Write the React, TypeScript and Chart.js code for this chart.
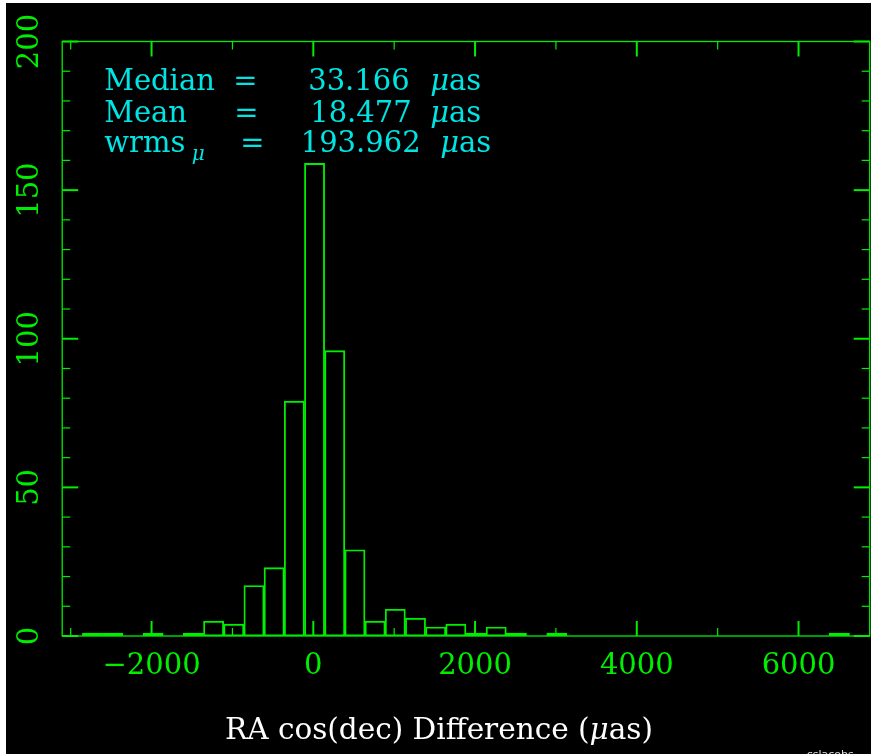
import React, { useEffect, useRef } from 'react';
import { Chart, registerables } from 'chart.js';

Chart.register(...registerables);

// ---- data ----
const X_MIN = -3105;
const X_MAX = 6880;
const BIN_COUNT = 40;
const binCounts = [
  0, 1, 1, 0, 1, 0, 1, 5, 4, 17,
  23, 79, 159, 96, 29, 5, 9, 6, 3, 4,
  1, 3, 1, 0, 1, 0, 0, 0, 0, 0,
  0, 0, 0, 0, 0, 0, 0, 0, 1, 0,
];
const xTickValues = [-3000, -2000, -1000, 0, 1000, 2000, 3000, 4000, 5000, 6000];
const Y_MIN = 0;
const Y_MAX = 200;
const yTickValues = [0, 10, 20, 30, 40, 50, 60, 70, 80, 90, 100, 110, 120, 130, 140, 150, 160, 170, 180, 190, 200];
const X_MAJOR_STEP = 2000;
const Y_MAJOR_STEP = 50;
const statNames = ['Median', 'Mean', 'wrms'];
const statValues = ['33.166', '18.477', '193.962'];
const statUnit = 'as';
const xTitleParts = ['RA cos(dec) Difference (', '\u03bc', 'as)'];
const footerText = 'cslacobs';

const GREEN = '#00ee00';
const CYAN = '#00e4e4';
const FONT = '"DejaVu Serif", serif';

const binWidth = (X_MAX - X_MIN) / BIN_COUNT;
const histPoints = binCounts.map((c, i) => ({ x: X_MIN + (i + 0.5) * binWidth, y: c }));

const fmt = (v: number) => (v < 0 ? '\u2212' + Math.abs(v) : String(v));

const framePlugin = {
  id: 'frameTicks',
  afterDatasetsDraw(chart: any) {
    const { ctx, chartArea: a, scales } = chart;
    const xs = scales.x;
    const ys = scales.y;
    ctx.save();
    ctx.strokeStyle = GREEN;
    ctx.lineWidth = 1.3;
    ctx.strokeRect(a.left, a.top, a.right - a.left, a.bottom - a.top);
    const line = (x1: number, y1: number, x2: number, y2: number) => {
      ctx.beginPath();
      ctx.moveTo(x1, y1);
      ctx.lineTo(x2, y2);
      ctx.stroke();
    };
    xs.ticks.forEach((t: any) => {
      const px = xs.getPixelForValue(t.value);
      const major = t.value % X_MAJOR_STEP === 0;
      const len = major ? 15 : 8;
      ctx.lineWidth = major ? 2 : 1.2;
      line(px, a.bottom, px, a.bottom - len);
      line(px, a.top, px, a.top + len);
    });
    ys.ticks.forEach((t: any) => {
      const py = ys.getPixelForValue(t.value);
      const major = t.value % Y_MAJOR_STEP === 0;
      const len = major ? 16 : 8;
      ctx.lineWidth = major ? 2 : 1.2;
      line(a.left, py, a.left + len, py);
      line(a.right, py, a.right - len, py);
    });
    ctx.restore();
  },
};

const textPlugin = {
  id: 'statText',
  afterDraw(chart: any) {
    const { ctx, chartArea: a } = chart;
    ctx.save();
    ctx.fillStyle = CYAN;
    ctx.textBaseline = 'alphabetic';
    ctx.textAlign = 'left';
    const L = a.left;
    const T = a.top;
    const rows = [
      { name: 42, eq: 171, val: 246, mu: 368, base: 48.5 },
      { name: 42, eq: 172, val: 248, mu: 368, base: 80 },
      { name: 42, eq: 178, val: 238.5, mu: 378, base: 110 },
    ];
    rows.forEach((r, i) => {
      ctx.font = `29px ${FONT}`;
      ctx.fillText(statNames[i], L + r.name, T + r.base);
      ctx.fillText('=', L + r.eq, T + r.base);
      ctx.fillText(statValues[i], L + r.val, T + r.base);
      ctx.font = `italic 29px ${FONT}`;
      ctx.fillText('\u03bc', L + r.mu, T + r.base);
      const mw = ctx.measureText('\u03bc').width;
      ctx.font = `29px ${FONT}`;
      ctx.fillText(statUnit, L + r.mu + mw, T + r.base);
    });
    // subscript mu on wrms
    ctx.font = `italic 20px ${FONT}`;
    ctx.fillText('\u03bc', L + 129.5, T + 118);

    // x-axis title
    ctx.fillStyle = '#ffffff';
    const f1 = `29.5px ${FONT}`;
    const f2 = `italic 29.5px ${FONT}`;
    ctx.font = f1;
    const w1 = ctx.measureText(xTitleParts[0]).width;
    const w3 = ctx.measureText(xTitleParts[2]).width;
    ctx.font = f2;
    const w2 = ctx.measureText(xTitleParts[1]).width;
    const total = w1 + w2 + w3;
    let tx = 433 - total / 2;
    const ty = 736;
    ctx.font = f1;
    ctx.fillText(xTitleParts[0], tx, ty);
    tx += w1;
    ctx.font = f2;
    ctx.fillText(xTitleParts[1], tx, ty);
    tx += w2;
    ctx.font = f1;
    ctx.fillText(xTitleParts[2], tx, ty);

    // footer
    ctx.fillStyle = '#dddddd';
    ctx.font = '11px "DejaVu Sans"';
    ctx.fillText(footerText, 800.7, 755);
    ctx.restore();
  },
};

export default function App() {
  const ref = useRef<HTMLCanvasElement | null>(null);
  useEffect(() => {
    if (!ref.current) return;
    const chart = new Chart(ref.current, {
      type: 'bar',
      data: {
        datasets: [
          {
            data: histPoints as any,
            backgroundColor: 'rgba(0,0,0,0)',
            borderColor: GREEN,
            borderWidth: 1.2,
            borderSkipped: false,
            barPercentage: 1,
            categoryPercentage: 1,
          } as any,
        ],
      },
      options: {
        animation: false,
        responsive: false,
        events: [],
        layout: { padding: { left: 0, top: 38.5, right: 1.3, bottom: 0 } },
        plugins: { legend: { display: false }, tooltip: { enabled: false }, title: { display: false } },
        scales: {
          x: {
            type: 'linear',
            offset: false,
            min: X_MIN,
            max: X_MAX,
            grid: { display: false, drawTicks: false },
            border: { display: false },
            afterBuildTicks: (s: any) => {
              s.ticks = xTickValues.map((v) => ({ value: v }));
            },
            ticks: {
              autoSkip: false,
              maxRotation: 0,
              minRotation: 0,
              padding: 13,
              color: GREEN,
              font: { family: FONT, size: 29 },
              callback: (v: any) => (Number(v) % X_MAJOR_STEP === 0 ? fmt(Number(v)) : ''),
            },
            title: { display: false },
            afterFit: (s: any) => {
              s.height = 118;
              s.paddingLeft = 0;
              s.paddingRight = 0;
            },
          } as any,
          y: {
            type: 'linear',
            min: Y_MIN,
            max: Y_MAX,
            grid: { display: false, drawTicks: false },
            border: { display: false },
            afterBuildTicks: (s: any) => {
              s.ticks = yTickValues.map((v) => ({ value: v }));
            },
            ticks: {
              autoSkip: false,
              minRotation: 90,
              maxRotation: 90,
              crossAlign: 'center',
              padding: 4,
              color: GREEN,
              font: { family: FONT, size: 29 },
              callback: (v: any) => (Number(v) % Y_MAJOR_STEP === 0 ? String(v) : ''),
            },
            afterFit: (s: any) => {
              s.width = 56.2;
              s.paddingTop = 0;
              s.paddingBottom = 0;
            },
          } as any,
        },
      },
      plugins: [framePlugin, textPlugin],
    });
    return () => chart.destroy();
  }, []);

  return (
    <div style={{ position: 'fixed', left: 0, top: 0, width: 871, height: 754, background: '#ffffff' }}>
      <div style={{ position: 'absolute', left: 6, top: 3, width: 865, height: 751, background: '#000000' }}>
        <canvas ref={ref} width={865} height={751} style={{ display: 'block' }} />
      </div>
    </div>
  );
}
